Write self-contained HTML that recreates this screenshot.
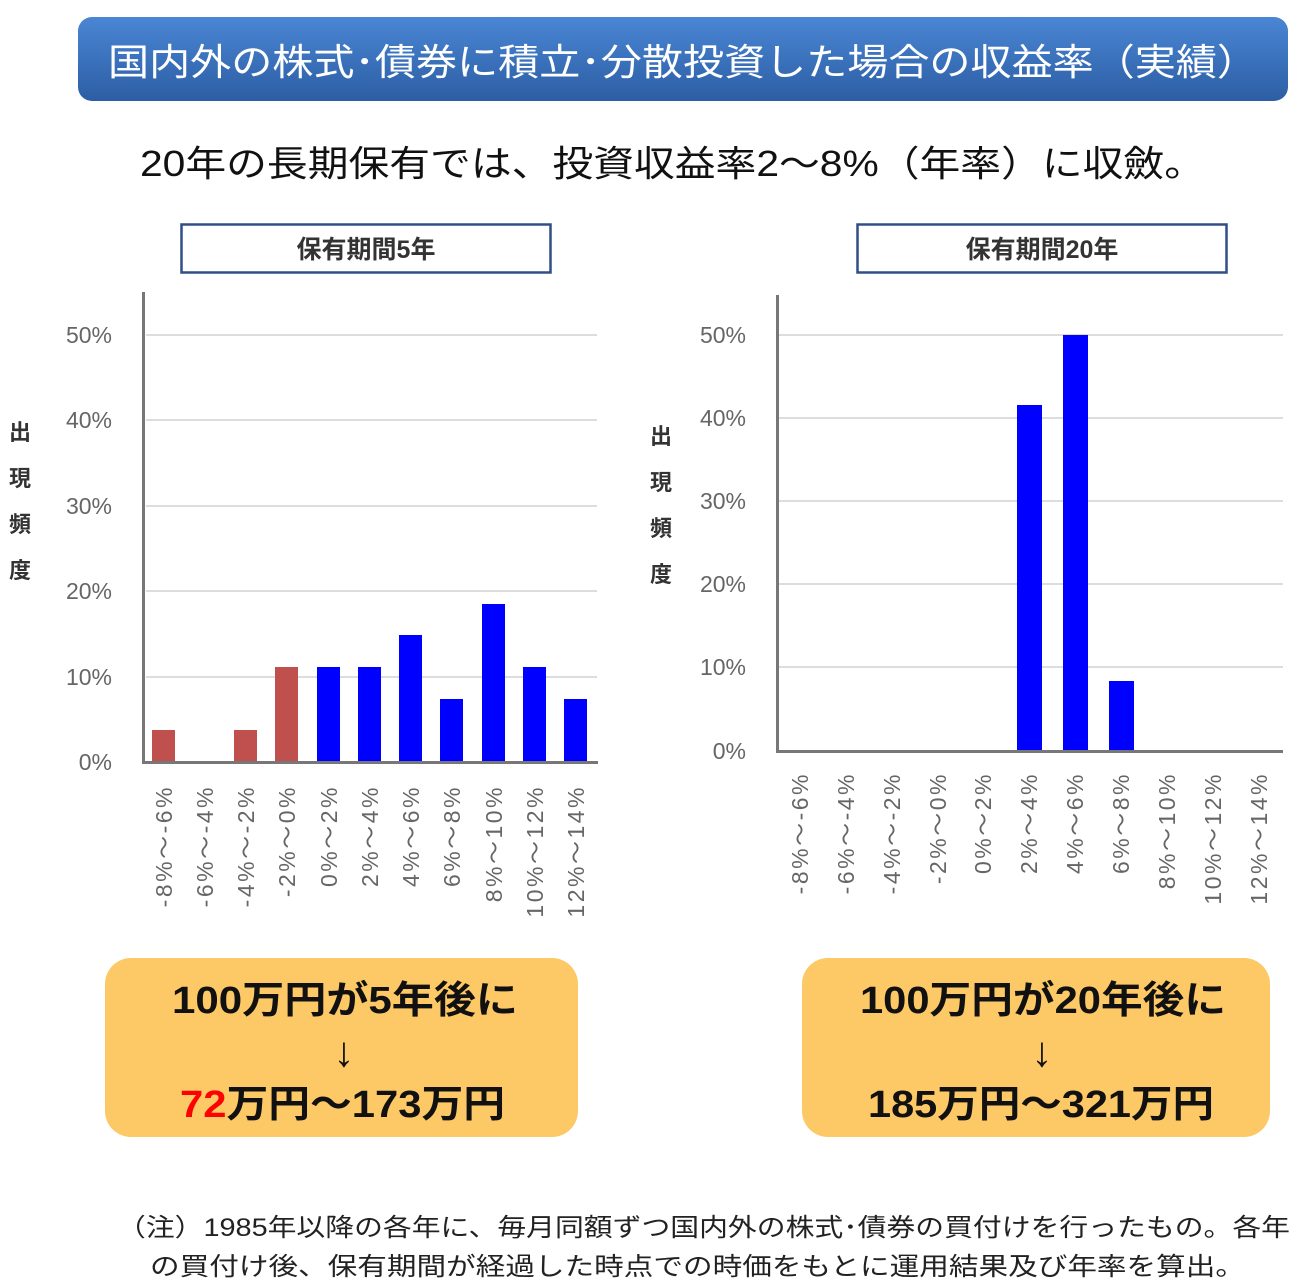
<!DOCTYPE html>
<html><head><meta charset="utf-8"><style>
html,body{margin:0;padding:0;background:#fff;}
svg{display:block;}
text{font-family:"Liberation Sans","Noto Sans CJK JP",sans-serif;}
</style></head><body>
<svg width="1300" height="1286" viewBox="0 0 1300 1286" xmlns="http://www.w3.org/2000/svg">
<defs>
<linearGradient id="tg" x1="0" y1="0" x2="0" y2="1">
<stop offset="0" stop-color="#4a86d4"/><stop offset="1" stop-color="#2c5ea4"/>
</linearGradient>
</defs>
<rect x="78" y="17" width="1210" height="84" rx="14" fill="url(#tg)"/>
<text x="108" y="75" font-size="37" fill="#fff" textLength="1150" lengthAdjust="spacingAndGlyphs">国内外の株式･債券に積立･分散投資した場合の収益率（実績）</text>
<text x="140" y="176" font-size="36" fill="#111" textLength="1065" lengthAdjust="spacingAndGlyphs">20年の長期保有では、投資収益率2～8%（年率）に収斂。</text>

<rect x="181.5" y="224.5" width="369" height="48" fill="#fff" stroke="#2f4f86" stroke-width="2.5"/>
<text x="366" y="258" font-size="25" font-weight="bold" fill="#333" text-anchor="middle">保有期間5年</text>
<rect x="857.5" y="224.5" width="369" height="48" fill="#fff" stroke="#2f4f86" stroke-width="2.5"/>
<text x="1042" y="258" font-size="25" font-weight="bold" fill="#333" text-anchor="middle">保有期間20年</text>

<!-- Left chart -->
<g stroke="#ddd" stroke-width="2">
<line x1="146" y1="335" x2="597" y2="335"/><line x1="146" y1="420" x2="597" y2="420"/>
<line x1="146" y1="506" x2="597" y2="506"/><line x1="146" y1="591" x2="597" y2="591"/>
<line x1="146" y1="677" x2="597" y2="677"/>
</g>
<g font-size="23" fill="#666" text-anchor="end">
<text x="112" y="343">50%</text><text x="112" y="428">40%</text><text x="112" y="514">30%</text>
<text x="112" y="599">20%</text><text x="112" y="685">10%</text><text x="112" y="770">0%</text>
</g>
<g font-size="22" font-weight="bold" fill="#333" text-anchor="middle">
<text x="20" y="440">出</text><text x="20" y="486">現</text><text x="20" y="532">頻</text><text x="20" y="578">度</text>
</g>
<g fill="#c0504d">
<rect x="152" y="730" width="23" height="32"/>
<rect x="234" y="730" width="23" height="32"/>
<rect x="275" y="667" width="23" height="95"/>
</g>
<g fill="#0000ff">
<rect x="317" y="667" width="23" height="95"/>
<rect x="358" y="667" width="23" height="95"/>
<rect x="399" y="635" width="23" height="127"/>
<rect x="440" y="699" width="23" height="63"/>
<rect x="482" y="604" width="23" height="158"/>
<rect x="523" y="667" width="23" height="95"/>
<rect x="564" y="699" width="23" height="63"/>
</g>
<line x1="143.5" y1="292" x2="143.5" y2="764" stroke="#777" stroke-width="3"/>
<line x1="142" y1="762.5" x2="598" y2="762.5" stroke="#777" stroke-width="3"/>
<g font-size="23" fill="#666" letter-spacing="2.5">
<text transform="translate(172,785) rotate(-90)" text-anchor="end">-8%～-6%</text>
<text transform="translate(213,785) rotate(-90)" text-anchor="end">-6%～-4%</text>
<text transform="translate(254,785) rotate(-90)" text-anchor="end">-4%～-2%</text>
<text transform="translate(295,785) rotate(-90)" text-anchor="end">-2%～0%</text>
<text transform="translate(337,785) rotate(-90)" text-anchor="end">0%～2%</text>
<text transform="translate(378,785) rotate(-90)" text-anchor="end">2%～4%</text>
<text transform="translate(419,785) rotate(-90)" text-anchor="end">4%～6%</text>
<text transform="translate(460,785) rotate(-90)" text-anchor="end">6%～8%</text>
<text transform="translate(502,785) rotate(-90)" text-anchor="end">8%～10%</text>
<text transform="translate(543,785) rotate(-90)" text-anchor="end">10%～12%</text>
<text transform="translate(584,785) rotate(-90)" text-anchor="end">12%～14%</text>
</g>

<!-- Right chart -->
<g stroke="#ddd" stroke-width="2">
<line x1="779" y1="335" x2="1283" y2="335"/><line x1="779" y1="418" x2="1283" y2="418"/>
<line x1="779" y1="501" x2="1283" y2="501"/><line x1="779" y1="584" x2="1283" y2="584"/>
<line x1="779" y1="667" x2="1283" y2="667"/>
</g>
<g font-size="23" fill="#666" text-anchor="end">
<text x="746" y="343">50%</text><text x="746" y="426">40%</text><text x="746" y="509">30%</text>
<text x="746" y="592">20%</text><text x="746" y="675">10%</text><text x="746" y="759">0%</text>
</g>
<g font-size="22" font-weight="bold" fill="#333" text-anchor="middle">
<text x="661" y="444">出</text><text x="661" y="490">現</text><text x="661" y="536">頻</text><text x="661" y="582">度</text>
</g>
<g fill="#0000ff">
<rect x="1017" y="405" width="25" height="346"/>
<rect x="1063" y="335" width="25" height="416"/>
<rect x="1109" y="681" width="25" height="70"/>
</g>
<line x1="777.5" y1="295" x2="777.5" y2="753" stroke="#777" stroke-width="3"/>
<line x1="776" y1="751.5" x2="1283" y2="751.5" stroke="#777" stroke-width="3"/>
<g font-size="23" fill="#666" letter-spacing="2.5">
<text transform="translate(808,772) rotate(-90)" text-anchor="end">-8%～-6%</text>
<text transform="translate(854,772) rotate(-90)" text-anchor="end">-6%～-4%</text>
<text transform="translate(900,772) rotate(-90)" text-anchor="end">-4%～-2%</text>
<text transform="translate(946,772) rotate(-90)" text-anchor="end">-2%～0%</text>
<text transform="translate(991,772) rotate(-90)" text-anchor="end">0%～2%</text>
<text transform="translate(1037,772) rotate(-90)" text-anchor="end">2%～4%</text>
<text transform="translate(1083,772) rotate(-90)" text-anchor="end">4%～6%</text>
<text transform="translate(1129,772) rotate(-90)" text-anchor="end">6%～8%</text>
<text transform="translate(1175,772) rotate(-90)" text-anchor="end">8%～10%</text>
<text transform="translate(1221,772) rotate(-90)" text-anchor="end">10%～12%</text>
<text transform="translate(1267,772) rotate(-90)" text-anchor="end">12%～14%</text>
</g>

<!-- Orange boxes -->
<rect x="105" y="958" width="473" height="179" rx="26" fill="#fdc866"/>
<text x="172" y="1013" font-size="38" font-weight="bold" fill="#111" textLength="346" lengthAdjust="spacingAndGlyphs">100万円が5年後に</text>
<text x="344" y="1066" font-size="42" font-weight="bold" fill="#111" text-anchor="middle">↓</text>
<text x="180" y="1117" font-size="38" font-weight="bold" fill="#111" textLength="325" lengthAdjust="spacingAndGlyphs"><tspan fill="#ff0000">72</tspan>万円～173万円</text>
<rect x="802" y="958" width="468" height="179" rx="26" fill="#fdc866"/>
<text x="860" y="1013" font-size="38" font-weight="bold" fill="#111" textLength="366" lengthAdjust="spacingAndGlyphs">100万円が20年後に</text>
<text x="1042" y="1066" font-size="42" font-weight="bold" fill="#111" text-anchor="middle">↓</text>
<text x="868" y="1117" font-size="38" font-weight="bold" fill="#111" textLength="346" lengthAdjust="spacingAndGlyphs">185万円～321万円</text>

<text x="117" y="1236" font-size="25" fill="#222" textLength="1173" lengthAdjust="spacingAndGlyphs">（注）1985年以降の各年に、毎月同額ずつ国内外の株式･債券の買付けを行ったもの。各年</text>
<text x="150" y="1275" font-size="25" fill="#222" textLength="1095" lengthAdjust="spacingAndGlyphs">の買付け後、保有期間が経過した時点での時価をもとに運用結果及び年率を算出。</text>
</svg>
</body></html>
